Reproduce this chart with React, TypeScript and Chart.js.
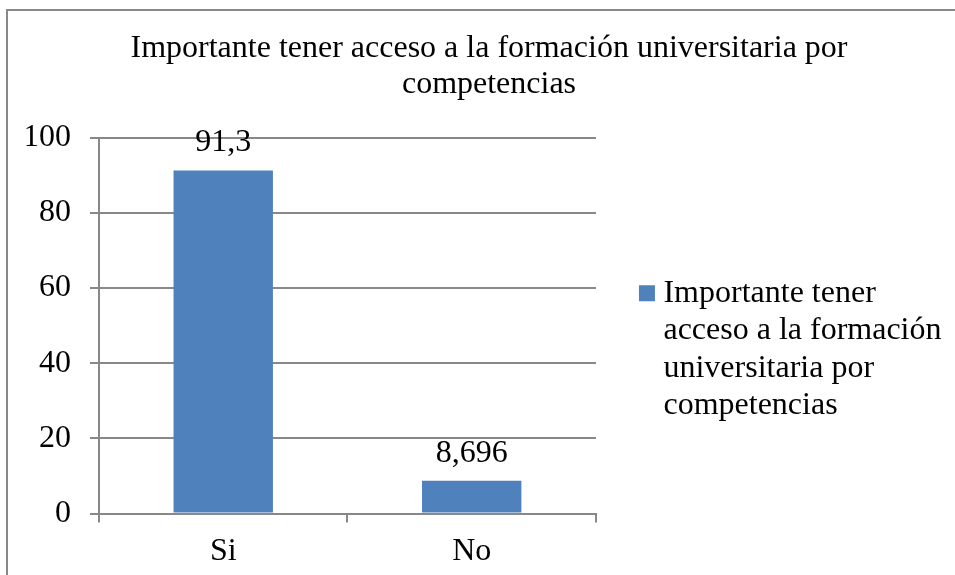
import React, { useEffect, useRef } from "react";
import { Chart, registerables } from "chart.js";

Chart.register(...registerables);

const titleLines = ["Importante tener acceso a la formación universitaria por", "competencias"];
const categories = ["Si", "No"];
const seriesLabel = "Importante tener acceso a la formación universitaria por competencias";
const legendLines = ["Importante tener", "acceso a la formación", "universitaria por", "competencias"];
const values = [91.3, 8.696];
const yMin = 0;
const yMax = 100;
const yStep = 20;

const FONT = "'Liberation Serif', 'Times New Roman', serif";
const BAR = "#4F81BD";
const GRID = "#888888";

const valueLabels = {
  id: "valueLabels",
  afterDatasetsDraw(chart: any) {
    const ctx = chart.ctx;
    ctx.save();
    ctx.font = `32px ${FONT}`;
    ctx.fillStyle = "#000";
    ctx.textAlign = "center";
    ctx.textBaseline = "alphabetic";
    chart.data.datasets.forEach((ds: any, di: number) => {
      const meta = chart.getDatasetMeta(di);
      meta.data.forEach((bar: any, i: number) => {
        const v = ds.data[i];
        ctx.fillText(String(v).replace(".", ","), bar.x, bar.y - 19);
      });
    });
    ctx.restore();
  },
};

export default function App() {
  const ref = useRef<HTMLCanvasElement>(null);
  useEffect(() => {
    if (!ref.current) return;
    const chart = new Chart(ref.current, {
      type: "bar",
      data: {
        labels: categories,
        datasets: [
          {
            label: seriesLabel,
            data: values,
            backgroundColor: BAR,
            borderWidth: 0,
            barPercentage: 0.4,
            categoryPercentage: 1.0,
          },
        ],
      },
      plugins: [valueLabels],
      options: {
        responsive: false,
        animation: false,
        devicePixelRatio: 1,
        layout: { padding: { left: 26.5, right: 3.5, top: 0, bottom: -4.9 } },
        plugins: {
          tooltip: { enabled: false },
          title: {
            display: true,
            text: titleLines,
            color: "#000",
            font: { family: FONT, size: 32, weight: "normal", lineHeight: 1.125 },
            padding: { top: 30.5, bottom: 35.2 },
          },
          legend: {
            display: true,
            position: "right",
            fullSize: false,
            align: "center",
            maxWidth: 420,
            title: {
              display: true,
              text: "",
              font: { size: 10, lineHeight: 1 },
              padding: { top: 43.3, bottom: 0 },
            },
            labels: {
              color: "#000",
              font: { family: FONT, size: 32, lineHeight: 1.17 },
              usePointStyle: true,
              pointStyle: "rect",
              boxWidth: 1,
              boxHeight: 16,
              padding: 50.5,
              generateLabels: (chart: any) => {
                const items = Chart.defaults.plugins.legend.labels.generateLabels(chart);
                return items.map((it: any) => ({ ...it, text: legendLines, lineWidth: 0 }));
              },
            },
          },
        },
        scales: {
          x: {
            grid: {
              display: true,
              drawOnChartArea: false,
              drawTicks: true,
              tickLength: 9,
              color: GRID,
              lineWidth: 2,
              offset: true,
            },
            border: { display: true, color: GRID, width: 2 },
            ticks: {
              color: "#000",
              font: { family: FONT, size: 32 },
              padding: 9.5,
            },
          },
          y: {
            min: yMin,
            max: yMax,
            afterFit: (s: any) => {
              s.width = 72.5;
            },
            grid: {
              color: GRID,
              lineWidth: 2,
              tickLength: 9,
              drawTicks: true,
            },
            border: { display: true, color: GRID, width: 2 },
            ticks: {
              stepSize: yStep,
              color: "#000",
              font: { family: FONT, size: 32 },
              padding: 19,
            },
          },
        },
      },
    });
    return () => chart.destroy();
  }, []);

  return (
    <div
      style={{
        position: "fixed",
        left: 0,
        top: 0,
        width: 955,
        height: 575,
        overflow: "hidden",
        background: "#fff",
      }}
    >
      <div
        style={{
          position: "absolute",
          left: 6,
          top: 9,
          right: -10,
          bottom: -10,
          borderLeft: "2px solid #898989",
          borderTop: "2px solid #898989",
        }}
      />
      <canvas
        ref={ref}
        width={955}
        height={575}
        style={{ position: "absolute", left: 0, top: 0, width: 955, height: 575 }}
      />
    </div>
  );
}
